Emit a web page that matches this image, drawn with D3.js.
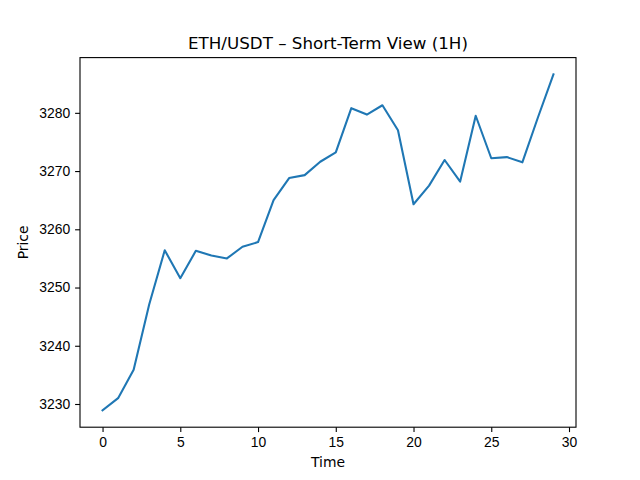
<!doctype html>
<html>
<head>
<meta charset="utf-8">
<script src="https://cdn.jsdelivr.net/npm/d3@7"></script>
<style>
  body { margin: 0; background: #fff; }
  svg { font-family: "DejaVu Sans", sans-serif; }
  .tick text { font-size: 13.9px; fill: #000; }
  .domain, .tick line { stroke: #000; stroke-width: 1.1px; }
</style>
</head>
<body>
<svg width="640" height="480"></svg>
<script>
// hourly closes
var time = [0,1,2,3,4,5,6,7,8,9,10,11,12,13,14,15,16,17,18,19,20,21,22,23,24,25,26,27,28,29];
var price = [3228.9, 3231.0, 3235.9, 3247.1, 3256.4, 3251.6, 3256.3, 3255.5, 3255.0, 3257.0,
             3257.8, 3265.0, 3268.8, 3269.3, 3271.6, 3273.2, 3280.8, 3279.7, 3281.3, 3277.0,
             3264.3, 3267.5, 3271.9, 3268.2, 3279.5, 3272.2, 3272.4, 3271.5, 3279.2, 3286.6];
var xTicks = [0, 5, 10, 15, 20, 25, 30];
var yTicks = [3230, 3240, 3250, 3260, 3270, 3280];

var svg = d3.select("svg"),
    plotL = 80, plotR = 576, plotT = 57.6, plotB = 427.2;

// matplotlib style 5% margins
var xr = d3.extent(time), yr = d3.extent(price);
var xp = (xr[1] - xr[0]) * 0.05, yp = (yr[1] - yr[0]) * 0.05;

var x = d3.scaleLinear().domain([xr[0] - xp, xr[1] + xp]).range([plotL, plotR]);
var y = d3.scaleLinear().domain([yr[0] - yp, yr[1] + yp]).range([plotB, plotT]);

svg.append("g")
   .attr("transform", "translate(0," + plotB + ")")
   .call(d3.axisBottom(x).tickValues(xTicks).tickSize(4.9).tickPadding(4.9).tickSizeOuter(0))
   .call(function(g) { g.select(".domain").remove(); });

svg.append("g")
   .attr("transform", "translate(" + plotL + ",0)")
   .call(d3.axisLeft(y).tickValues(yTicks).tickSize(4.9).tickPadding(4.9).tickFormat(d3.format("d")))
   .call(function(g) { g.select(".domain").remove(); });

var line = d3.line()
    .x(function(d, i) { return x(time[i]); })
    .y(function(d) { return y(d); });

svg.append("path")
   .datum(price)
   .attr("fill", "none")
   .attr("stroke", "#1f77b4")
   .attr("stroke-width", 2.08)
   .attr("stroke-linejoin", "round")
   .attr("stroke-linecap", "square")
   .attr("d", line);

// frame
svg.append("rect")
   .attr("x", plotL).attr("y", plotT)
   .attr("width", plotR - plotL).attr("height", plotB - plotT)
   .attr("fill", "none").attr("stroke", "#000").attr("stroke-width", 1.1);

svg.append("text")
   .attr("x", (plotL + plotR) / 2).attr("y", 49)
   .attr("text-anchor", "middle")
   .attr("font-size", "16.7px")
   .text("ETH/USDT \u2013 Short-Term View (1H)");

svg.append("text")
   .attr("x", (plotL + plotR) / 2).attr("y", 467)
   .attr("text-anchor", "middle")
   .attr("font-size", "13.9px")
   .text("Time");

svg.append("text")
   .attr("transform", "translate(28," + (plotT + plotB) / 2 + ") rotate(-90)")
   .attr("text-anchor", "middle")
   .attr("font-size", "13.9px")
   .text("Price");
</script>
</body>
</html>
